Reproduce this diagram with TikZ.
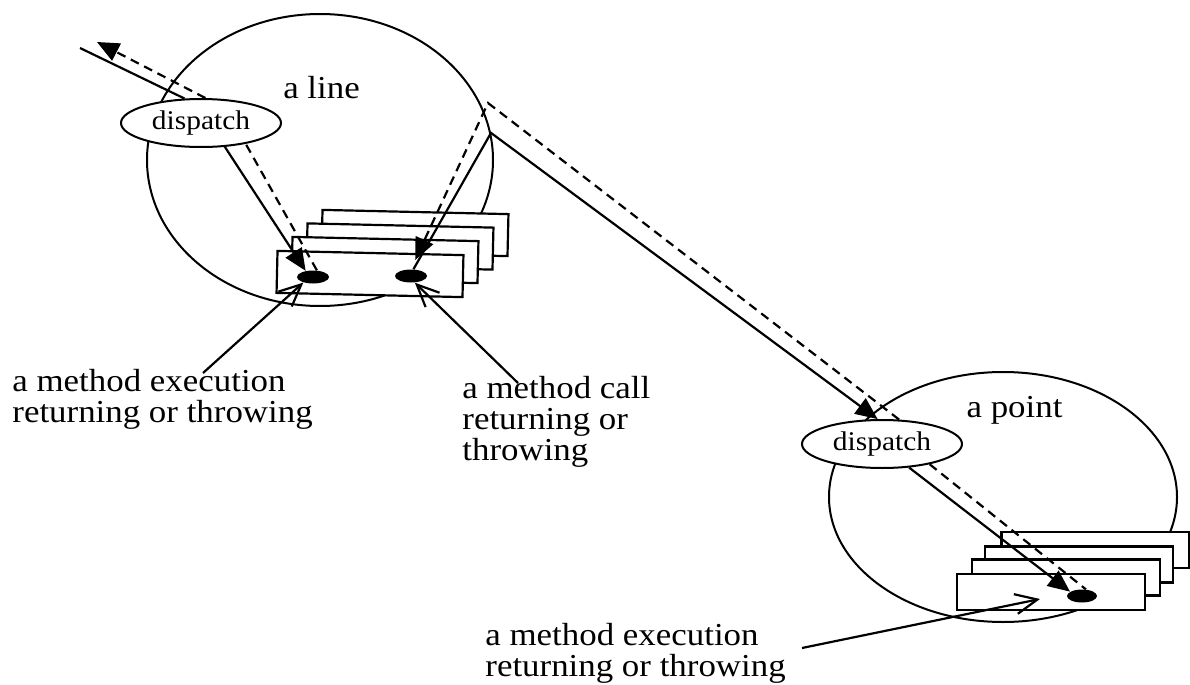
\documentclass[tikz,border=0pt]{standalone}
\usepackage{fontspec}
\setmainfont{Liberation Serif}[FakeStretch=1.09]
\usetikzlibrary{shapes.geometric,arrows.meta}

\tikzset{
  object/.style={draw, ellipse, line width=1pt, inner sep=0pt},
  dispatcher/.style={draw, ellipse, fill=white, line width=1pt, inner sep=0pt,
    minimum width=80pt, minimum height=24pt, font=\fontsize{13.5}{14}\selectfont},
  frameL/.style={draw, fill=white, line width=1.1pt, inner sep=0pt,
    minimum width=93pt, minimum height=21pt, rotate=-1.3},
  frameP/.style={draw, fill=white, line width=1.1pt, inner sep=0pt,
    minimum width=94pt, minimum height=18pt},
  joinpt/.style={ellipse, fill=black, inner sep=0pt, minimum width=16pt, minimum height=6.5pt},
  plainflow/.style={line width=1.1pt},
  callflow/.style={line width=1.1pt, -{Triangle[length=11pt,width=9.5pt]}},
  returnflow/.style={line width=1.1pt, dash pattern=on 4.5pt off 3pt},
  pointer/.style={line width=1.1pt, -{Straight Barb[length=11pt,width=10pt]}},
  caption/.style={font=\fontsize{16}{15.5}\selectfont, inner sep=0pt, align=left, anchor=north west},
  title/.style={font=\fontsize{16}{15.5}\selectfont, inner sep=0pt, anchor=base},
}

\begin{document}
\begin{tikzpicture}[x=0.5pt, y=-0.5pt]
  \useasboundingbox (0,0) rectangle (1190,685);

  % the two objects
  \node[object, minimum width=173pt, minimum height=146pt] (L) at (320,160) {};
  \node[object, minimum width=174pt, minimum height=125pt] (P) at (1003,497) {};
  \node[title] (Ltitle) at (321.5,98) {a line};
  \node[title] (Ptitle) at (1014.5,417) {a point};

  % dispatchers
  \node[dispatcher] (d1) at (201,123) {dispatch};
  \node[dispatcher] (d2) at (882,444) {dispatch};

  % stacks of frames, back to front
  \node[frameL] (lf4) at (415,233) {};
  \node[frameL] (lf3) at (400,246.5) {};
  \node[frameL] (lf2) at (385,260) {};
  \node[frameL] (lf1) at (370,274) {};

  \node[frameP] (pf4) at (1095.5,550) {};
  \node[frameP] (pf3) at (1079,564.5) {};
  \node[frameP] (pf2) at (1066,577.5) {};
  \node[frameP] (pf1) at (1051,592) {};

  % join points
  \node[joinpt] (dot1) at (313,277) {};
  \node[joinpt] (dot2) at (411,276) {};
  \node[joinpt, minimum width=15pt] (dot3) at (1082,596) {};

  % captions
  \node[caption] (lab1) at (12,369) {a method execution\\returning or throwing};
  \node[caption] (lab2) at (462,376) {a method call\\returning or\\throwing};
  \node[caption] (lab3) at (485,623) {a method execution\\returning or throwing};

  % free ends
  \coordinate (inL) at (80,48);
  \coordinate (outL) at (97,42);
  \coordinate (K) at (488,103);
  \coordinate (c1) at (203,373);
  \coordinate (c2) at (518,383);
  \coordinate (c3) at (802,648);
  \coordinate (t3) at (1040,599);

  % calls (solid) into the line
  \draw[plainflow] (inL) -- (d1.124);
  \draw[callflow] (d1.-45) -- (dot1.140);
  % returns (dashed) out of the line
  \draw[returnflow] (dot1.60) -- (d1.-25);
  \draw[returnflow, -{Triangle[length=11pt,width=9.5pt]}] (d1.80) -- (outL);

  % call from the line to the point
  \draw[callflow] (dot2.70) -- (L.9) -- (d2.100);
  \draw[callflow] (d2.-41) -- (dot3.160);
  % return from the point to the line
  \draw[returnflow] (d2.-23) -- (dot3.60);
  \draw[returnflow, -{Triangle[length=11pt,width=9.5pt]}, shorten >=5pt] (d2.55) -- (K) -- (dot2.north);

  % caption pointers
  \draw[pointer] (c1) -- (dot1.-150);
  \draw[pointer] (c2) -- (dot2.-60);
  \draw[pointer] (c3) -- (t3);
\end{tikzpicture}
\end{document}
